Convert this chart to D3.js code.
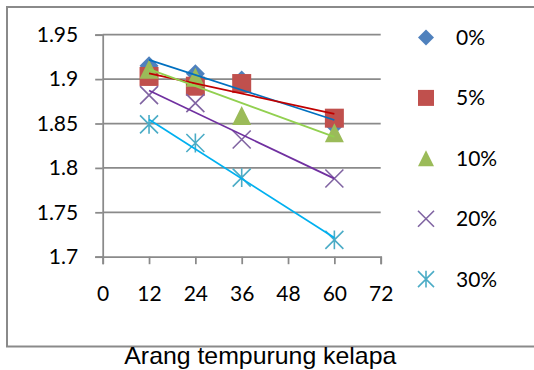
<!DOCTYPE html>
<html><head><meta charset="utf-8">
<script src="https://cdn.jsdelivr.net/npm/d3@7"></script>
<style>body{margin:0;background:#fff}svg{display:block}</style>
</head><body>
<svg id="c" width="534" height="370"></svg>
<script>
const xValues = [12, 24, 36, 60];
const seriesNames = ["0%", "5%", "10%", "20%", "30%"];
const s0 = [1.915, 1.906, 1.899, 1.848];
const s5 = [1.903, 1.892, 1.895, 1.856];
const s10 = [1.911, 1.902, 1.859, 1.8395];
const s20 = [1.882, 1.873, 1.832, 1.788];
const s30 = [1.849, 1.828, 1.789, 1.719];
const xTicks = [0, 12, 24, 36, 48, 60, 72];
const yTicks = [1.7, 1.75, 1.8, 1.85, 1.9, 1.95];
const yTickLabels = ["1.7", "1.75", "1.8", "1.85", "1.9", "1.95"];
const xTitle = "Arang tempurung kelapa";

const seriesValues = [s0, s5, s10, s20, s30];
const markerColors = ["#4F81BD", "#C0504D", "#9BBB59", "#8064A2", "#4BACC6"];
const trendColors = ["#0070C0", "#C00000", "#92D050", "#7030A0", "#00B0F0"];
const shapes = ["diamond", "square", "triangle", "x", "star"];

const svg = d3.select("#c");
const x = d3.scaleLinear().domain([0, 72]).range([102.7, 380.7]);
const y = d3.scaleLinear().domain([1.7, 1.95]).range([256.7, 34.7]);
const gridColor = "#8a8a8a";
const numFont = "Lato, 'Open Sans', sans-serif";

// outer border
svg.append("rect").attr("x", 7).attr("y", 7).attr("width", 540).attr("height", 339.5)
  .attr("fill", "none").attr("stroke", gridColor).attr("stroke-width", 2);

// gridlines
svg.append("g").selectAll("line").data(yTicks.slice(1)).join("line")
  .attr("x1", x(0)).attr("x2", x(72)).attr("y1", d => y(d)).attr("y2", d => y(d))
  .attr("stroke", gridColor).attr("stroke-width", 1.75);

// y axis
const yAxis = svg.append("g").attr("transform", `translate(${x(0)},0)`)
  .call(d3.axisLeft(y).tickValues(yTicks).tickFormat((d, i) => yTickLabels[i]).tickSize(7.5).tickPadding(17));
// x axis
const xAxis = svg.append("g").attr("transform", `translate(0,${y(1.7)})`)
  .call(d3.axisBottom(x).tickValues(xTicks).tickFormat(d3.format("d")).tickSize(7.5).tickPadding(22));
[yAxis, xAxis].forEach(g => {
  g.select(".domain").attr("stroke", gridColor).attr("stroke-width", 1.75);
  g.selectAll(".tick line").attr("stroke", gridColor).attr("stroke-width", 1.75);
  g.selectAll(".tick text").attr("fill", "#000").style("font-family", numFont).style("font-size", "21px");
});
xAxis.selectAll(".tick text").attr("dy", "0.71em");

function shapePath(shape, s) {
  const h = s / 2;
  switch (shape) {
    case "diamond": return `M0,${-h}L${h},0L0,${h}L${-h},0Z`;
    case "square": return `M${-h},${-h}H${h}V${h}H${-h}Z`;
    case "triangle": return `M0,${-h}L${h},${h}L${-h},${h}Z`;
    case "x": return `M${-h},${-h}L${h},${h}M${h},${-h}L${-h},${h}`;
    case "star": return `M${-h},${-h}L${h},${h}M${h},${-h}L${-h},${h}M0,${-h*1.05}V${h*1.05}`;
  }
}
function styleMarker(sel, i) {
  const stroked = shapes[i] === "x" || shapes[i] === "star";
  sel.attr("fill", stroked ? "none" : markerColors[i])
     .attr("stroke", stroked ? markerColors[i] : "none")
     .attr("stroke-width", stroked ? 1.6 : 0);
}

// markers
seriesValues.forEach((vals, i) => {
  const size = shapes[i] === "x" || shapes[i] === "star" ? 18 : 19;
  svg.append("g").selectAll("path").data(vals).join("path")
    .attr("transform", (d, j) => `translate(${x(xValues[j])},${y(d)})`)
    .attr("d", shapePath(shapes[i], size))
    .call(styleMarker, i);
});

// linear trendlines
function regression(xs, ys) {
  const mx = d3.mean(xs), my = d3.mean(ys);
  const sxy = d3.sum(xs, (v, k) => (v - mx) * (ys[k] - my));
  const sxx = d3.sum(xs, v => (v - mx) ** 2);
  const b = sxy / sxx;
  return v => my + b * (v - mx);
}
seriesValues.forEach((vals, i) => {
  const f = regression(xValues, vals);
  const ends = d3.extent(xValues);
  svg.append("line")
    .attr("x1", x(ends[0])).attr("y1", y(f(ends[0])))
    .attr("x2", x(ends[1])).attr("y2", y(f(ends[1])))
    .attr("stroke", trendColors[i]).attr("stroke-width", 1.75);
});

// legend
const leg = svg.append("g").selectAll("g").data(seriesNames).join("g")
  .attr("transform", (d, i) => `translate(426,${37.5 + i * 60.4})`);
leg.append("path").attr("d", (d, i) => shapePath(shapes[i], 16)).each(function(d, i){ d3.select(this).call(styleMarker, i); });
leg.append("text").attr("x", 30).attr("dy", "0.36em").text(d => d)
  .style("font-family", numFont).style("font-size", "21px").attr("fill", "#000");

// x title
svg.append("text").attr("x", 260.3).attr("y", 363.5).attr("text-anchor", "middle")
  .attr("textLength", 272).attr("lengthAdjust", "spacingAndGlyphs")
  .style("font-family", "'Liberation Sans', Arial, sans-serif").style("font-size", "24px").attr("fill", "#000")
  .text(xTitle);
</script>
</body></html>
